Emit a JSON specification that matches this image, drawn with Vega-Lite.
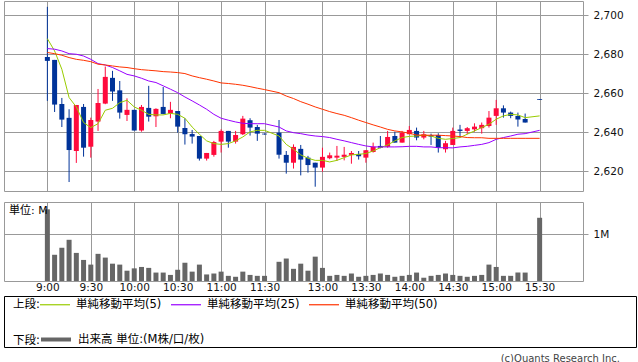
{
  "$schema": "https://vega.github.io/schema/vega-lite/v6.json",
  "background": "white",
  "padding": {"left": 3, "top": 0, "right": 2, "bottom": 0},
  "config": {
    "view": {"stroke": "#999999", "strokeWidth": 1},
    "axis": {"gridColor": "#999999", "gridWidth": 1, "gridOpacity": 1, "labelFont": "DejaVu Sans", "labelFontSize": 10.5, "labelColor": "#111111", "tickColor": "#999999", "domain": false, "title": null},
    "legend": {"labelFont": "DejaVu Sans, Noto Sans CJK JP", "titleFont": "DejaVu Sans, Noto Sans CJK JP"}
  },
  "datasets": {
    "d": [
      {"i":0,"o":2678.6,"h":2704.3,"l":2656.1,"c":2676.6,"m5":2688.0,"m25":2682.9,"m50":2680.9,"v":1.53},
      {"i":1,"o":2677.1,"h":2677.1,"l":2650.4,"c":2654.2,"m5":2681.7,"m25":2682.6,"m50":2680.3,"v":0.56},
      {"i":2,"o":2654.5,"h":2657.6,"l":2642.7,"c":2646.5,"m5":2672.3,"m25":2681.7,"m50":2679.5,"v":0.71},
      {"i":3,"o":2647.4,"h":2651.8,"l":2614.5,"c":2630.9,"m5":2657.8,"m25":2680.3,"m50":2678.3,"v":0.88},
      {"i":4,"o":2630.4,"h":2654.0,"l":2624.3,"c":2654.0,"m5":2653.0,"m25":2680.0,"m50":2677.4,"v":0.60},
      {"i":5,"o":2653.0,"h":2654.5,"l":2627.5,"c":2632.1,"m5":2645.0,"m25":2679.1,"m50":2676.9,"v":0.45},
      {"i":6,"o":2632.6,"h":2647.5,"l":2627.0,"c":2646.3,"m5":2642.4,"m25":2677.4,"m50":2676.2,"v":0.35},
      {"i":7,"o":2645.5,"h":2662.2,"l":2640.7,"c":2655.0,"m5":2644.4,"m25":2675.2,"m50":2674.9,"v":0.58},
      {"i":8,"o":2654.7,"h":2673.7,"l":2654.4,"c":2668.4,"m5":2651.3,"m25":2674.5,"m50":2674.5,"v":0.50},
      {"i":9,"o":2667.9,"h":2671.5,"l":2656.1,"c":2660.9,"m5":2652.3,"m25":2673.2,"m50":2674.0,"v":0.37},
      {"i":10,"o":2661.5,"h":2666.3,"l":2647.0,"c":2650.1,"m5":2655.2,"m25":2671.5,"m50":2673.5,"v":0.35},
      {"i":11,"o":2648.9,"h":2657.4,"l":2645.8,"c":2651.5,"m5":2656.4,"m25":2669.7,"m50":2673.2,"v":0.22},
      {"i":12,"o":2651.5,"h":2651.5,"l":2640.9,"c":2640.9,"m5":2653.0,"m25":2668.9,"m50":2672.6,"v":0.27},
      {"i":13,"o":2640.9,"h":2654.0,"l":2640.3,"c":2653.0,"m5":2651.3,"m25":2667.7,"m50":2672.1,"v":0.30},
      {"i":14,"o":2652.5,"h":2663.8,"l":2645.5,"c":2648.0,"m5":2649.2,"m25":2666.3,"m50":2671.8,"v":0.28},
      {"i":15,"o":2648.2,"h":2652.3,"l":2642.7,"c":2652.0,"m5":2648.9,"m25":2665.5,"m50":2671.5,"v":0.18},
      {"i":16,"o":2653.0,"h":2663.2,"l":2649.2,"c":2649.4,"m5":2648.9,"m25":2663.8,"m50":2671.1,"v":0.18},
      {"i":17,"o":2649.6,"h":2655.6,"l":2647.2,"c":2651.5,"m5":2649.7,"m25":2662.1,"m50":2670.9,"v":0.13},
      {"i":18,"o":2650.9,"h":2650.9,"l":2639.8,"c":2642.9,"m5":2649.2,"m25":2660.3,"m50":2670.6,"v":0.24},
      {"i":19,"o":2642.2,"h":2647.2,"l":2633.7,"c":2639.0,"m5":2647.2,"m25":2658.1,"m50":2670.1,"v":0.39},
      {"i":20,"o":2639.1,"h":2641.2,"l":2634.2,"c":2637.8,"m5":2642.7,"m25":2656.1,"m50":2668.9,"v":0.20},
      {"i":21,"o":2638.1,"h":2638.1,"l":2625.5,"c":2626.5,"m5":2639.0,"m25":2654.0,"m50":2668.0,"v":0.35},
      {"i":22,"o":2626.5,"h":2629.4,"l":2625.5,"c":2629.4,"m5":2635.6,"m25":2651.8,"m50":2667.2,"v":0.14},
      {"i":23,"o":2628.4,"h":2635.6,"l":2627.5,"c":2635.0,"m5":2634.2,"m25":2649.2,"m50":2666.3,"v":0.16},
      {"i":24,"o":2635.2,"h":2641.5,"l":2629.6,"c":2640.7,"m5":2633.8,"m25":2647.2,"m50":2665.3,"v":0.20},
      {"i":25,"o":2640.7,"h":2640.7,"l":2632.1,"c":2635.2,"m5":2634.2,"m25":2646.2,"m50":2665.0,"v":0.11},
      {"i":26,"o":2635.2,"h":2640.7,"l":2634.2,"c":2638.6,"m5":2635.6,"m25":2645.3,"m50":2664.6,"v":0.09},
      {"i":27,"o":2639.0,"h":2648.4,"l":2638.6,"c":2647.0,"m5":2637.6,"m25":2644.6,"m50":2664.1,"v":0.20},
      {"i":28,"o":2646.2,"h":2647.2,"l":2638.3,"c":2642.4,"m5":2640.2,"m25":2644.4,"m50":2663.4,"v":0.13},
      {"i":29,"o":2642.7,"h":2643.8,"l":2635.6,"c":2639.3,"m5":2641.0,"m25":2644.4,"m50":2662.6,"v":0.11},
      {"i":30,"o":2639.3,"h":2639.4,"l":2638.8,"c":2638.9,"m5":2641.0,"m25":2644.4,"m50":2661.9,"v":0.11},
      {"i":32,"o":2639.8,"h":2646.3,"l":2626.5,"c":2628.5,"m5":2638.1,"m25":2642.7,"m50":2660.3,"v":0.41},
      {"i":33,"o":2628.4,"h":2630.4,"l":2618.8,"c":2624.4,"m5":2633.8,"m25":2640.7,"m50":2658.6,"v":0.48},
      {"i":34,"o":2624.4,"h":2633.8,"l":2621.4,"c":2632.5,"m5":2631.3,"m25":2639.8,"m50":2657.3,"v":0.26},
      {"i":35,"o":2631.5,"h":2633.5,"l":2617.9,"c":2626.0,"m5":2628.4,"m25":2639.3,"m50":2655.7,"v":0.37},
      {"i":36,"o":2627.0,"h":2627.9,"l":2619.3,"c":2623.2,"m5":2626.7,"m25":2638.6,"m50":2654.4,"v":0.22},
      {"i":37,"o":2624.4,"h":2624.4,"l":2612.1,"c":2621.9,"m5":2625.6,"m25":2638.1,"m50":2653.0,"v":0.52},
      {"i":38,"o":2621.9,"h":2632.1,"l":2619.8,"c":2627.4,"m5":2625.6,"m25":2637.8,"m50":2651.8,"v":0.28},
      {"i":39,"o":2626.7,"h":2629.6,"l":2626.2,"c":2628.2,"m5":2624.8,"m25":2637.3,"m50":2650.6,"v":0.11},
      {"i":40,"o":2627.0,"h":2633.0,"l":2625.3,"c":2628.0,"m5":2625.6,"m25":2636.4,"m50":2649.6,"v":0.13},
      {"i":41,"o":2627.4,"h":2632.5,"l":2625.6,"c":2628.5,"m5":2627.0,"m25":2635.6,"m50":2648.7,"v":0.11},
      {"i":42,"o":2628.4,"h":2630.4,"l":2623.9,"c":2629.4,"m5":2628.4,"m25":2634.7,"m50":2647.5,"v":0.16},
      {"i":43,"o":2628.9,"h":2630.4,"l":2626.0,"c":2627.7,"m5":2628.7,"m25":2633.8,"m50":2646.2,"v":0.09},
      {"i":44,"o":2627.0,"h":2630.9,"l":2624.4,"c":2630.8,"m5":2629.1,"m25":2633.0,"m50":2645.0,"v":0.11},
      {"i":45,"o":2629.9,"h":2634.7,"l":2629.6,"c":2632.6,"m5":2630.4,"m25":2632.5,"m50":2643.8,"v":0.13},
      {"i":46,"o":2633.0,"h":2638.1,"l":2631.8,"c":2632.1,"m5":2632.1,"m25":2632.5,"m50":2642.7,"v":0.16},
      {"i":47,"o":2632.6,"h":2640.7,"l":2632.1,"c":2637.6,"m5":2633.5,"m25":2632.5,"m50":2641.5,"v":0.13},
      {"i":48,"o":2638.1,"h":2640.3,"l":2634.7,"c":2634.7,"m5":2635.6,"m25":2632.5,"m50":2640.7,"v":0.09},
      {"i":49,"o":2634.7,"h":2640.7,"l":2634.7,"c":2639.8,"m5":2637.3,"m25":2632.6,"m50":2640.2,"v":0.11},
      {"i":50,"o":2639.0,"h":2643.2,"l":2639.0,"c":2641.2,"m5":2637.9,"m25":2632.8,"m50":2639.5,"v":0.13},
      {"i":51,"o":2640.7,"h":2642.4,"l":2635.9,"c":2637.3,"m5":2638.1,"m25":2632.8,"m50":2638.6,"v":0.18},
      {"i":52,"o":2637.3,"h":2640.7,"l":2636.4,"c":2639.0,"m5":2638.5,"m25":2632.5,"m50":2638.5,"v":0.07},
      {"i":53,"o":2638.5,"h":2639.3,"l":2633.5,"c":2637.8,"m5":2638.1,"m25":2632.5,"m50":2638.5,"v":0.11},
      {"i":54,"o":2638.6,"h":2639.5,"l":2629.6,"c":2632.1,"m5":2636.9,"m25":2632.1,"m50":2638.5,"v":0.13},
      {"i":55,"o":2631.3,"h":2635.6,"l":2629.6,"c":2634.4,"m5":2636.4,"m25":2632.1,"m50":2638.3,"v":0.16},
      {"i":56,"o":2633.5,"h":2642.4,"l":2633.5,"c":2640.7,"m5":2636.8,"m25":2632.0,"m50":2638.1,"v":0.13},
      {"i":57,"o":2641.4,"h":2643.8,"l":2637.3,"c":2640.7,"m5":2637.3,"m25":2632.5,"m50":2637.8,"v":0.11},
      {"i":58,"o":2640.7,"h":2642.7,"l":2639.0,"c":2642.1,"m5":2639.0,"m25":2632.8,"m50":2637.3,"v":0.09},
      {"i":59,"o":2641.5,"h":2644.6,"l":2640.3,"c":2642.9,"m5":2640.7,"m25":2633.3,"m50":2637.2,"v":0.11},
      {"i":60,"o":2642.1,"h":2645.0,"l":2639.3,"c":2643.8,"m5":2642.4,"m25":2633.8,"m50":2637.2,"v":0.13},
      {"i":61,"o":2643.2,"h":2650.9,"l":2642.4,"c":2647.5,"m5":2644.1,"m25":2634.7,"m50":2636.9,"v":0.35},
      {"i":62,"o":2648.4,"h":2656.6,"l":2643.8,"c":2652.3,"m5":2646.7,"m25":2636.4,"m50":2636.9,"v":0.30},
      {"i":63,"o":2652.3,"h":2653.8,"l":2647.5,"c":2650.1,"m5":2648.4,"m25":2637.3,"m50":2636.9,"v":0.11},
      {"i":64,"o":2650.1,"h":2650.6,"l":2647.2,"c":2648.4,"m5":2649.2,"m25":2638.1,"m50":2636.9,"v":0.11},
      {"i":65,"o":2648.4,"h":2650.1,"l":2642.9,"c":2646.5,"m5":2648.9,"m25":2639.0,"m50":2636.9,"v":0.18},
      {"i":66,"o":2646.8,"h":2649.6,"l":2645.0,"c":2645.0,"m5":2647.5,"m25":2639.3,"m50":2636.9,"v":0.18},
      {"i":68,"o":2657.0,"h":2657.0,"l":2656.6,"c":2656.6,"m5":2648.4,"m25":2641.0,"m50":2636.9,"v":1.35}
    ]
  },
  "vconcat": [
    {
      "bounds": "flush",
      "spacing": 11,
      "vconcat": [
        {
          "width": 579,
          "height": 190,
          "data": {"name": "d"},
          "encoding": {
            "x": {"field": "i", "type": "quantitative", "scale": {"domain": [-5.3, 73.3], "nice": false, "zero": false},
              "axis": {"values": [0, 6, 12, 18, 24, 30, 38, 44, 50, 56, 62, 68], "labels": false, "ticks": false, "grid": true}}
          },
          "layer": [
            {
              "mark": {"type": "rule", "strokeWidth": 1},
              "encoding": {
                "y": {"field": "l", "type": "quantitative", "scale": {"domain": [2609.9, 2707.3], "nice": false, "zero": false},
                  "axis": {"orient": "right", "values": [2620, 2640, 2660, 2680, 2700], "format": ",d", "tickSize": 5, "labelPadding": 5, "grid": true}},
                "y2": {"field": "h"},
                "color": {"condition": {"test": "datum.c >= datum.o", "value": "#ff0a3c"}, "value": "#003399"}
              }
            },
            {
              "mark": {"type": "bar", "size": 5},
              "encoding": {
                "y": {"field": "o", "type": "quantitative"},
                "y2": {"field": "c"},
                "color": {"condition": {"test": "datum.c >= datum.o", "value": "#ff0a3c"}, "value": "#003399"}
              }
            },
            {
              "transform": [{"fold": ["m5", "m25", "m50"], "as": ["s", "val"]}],
              "mark": {"type": "line", "strokeWidth": 1},
              "encoding": {
                "y": {"field": "val", "type": "quantitative"},
                "color": {"field": "s", "type": "nominal",
                  "scale": {"domain": ["m5", "m25", "m50"], "range": ["#99cc00", "#9900ff", "#ff3300"]},
                  "legend": null}
              }
            }
          ]
        },
        {
          "width": 579,
          "height": 79,
          "title": {"text": "単位: M", "anchor": "start", "orient": "top", "offset": -14, "dx": 5, "fontSize": 11, "fontWeight": "normal", "font": "DejaVu Sans, Noto Sans CJK JP", "color": "#000000"},
          "data": {"name": "d"},
          "mark": {"type": "bar", "size": 5, "color": "#666666"},
          "encoding": {
            "x": {"field": "i", "type": "quantitative", "scale": {"domain": [-5.3, 73.3], "nice": false, "zero": false},
              "axis": {"values": [0, 6, 12, 18, 24, 30, 38, 44, 50, 56, 62, 68], "ticks": false, "tickSize": 0, "labelPadding": 1, "grid": true,
                "labelExpr": "['9:00','9:30','10:00','10:30','11:00','11:30','13:00','13:30','14:00','14:30','15:00','15:30'][indexof([0,6,12,18,24,30,38,44,50,56,62,68], datum.value)]"}},
            "y": {"field": "v", "type": "quantitative", "scale": {"domain": [0, 1.687], "nice": false},
              "axis": {"orient": "right", "values": [1], "labelExpr": "'1M'", "tickSize": 5, "labelPadding": 5, "grid": true}}
          }
        }
      ]
    },
    {
      "width": 632,
      "height": 51,
      "view": {"stroke": "#000000", "strokeWidth": 1},
      "title": {"text": "(c)Quants Research Inc.", "orient": "bottom", "anchor": "end", "offset": 6, "dx": -16, "fontSize": 10, "fontWeight": "normal", "font": "DejaVu Sans", "color": "#444444"},
      "data": {"name": "d"},
      "resolve": {"scale": {"color": "independent", "y": "independent"}, "legend": {"color": "independent"}},
      "layer": [
        {
          "transform": [{"fold": ["m5", "m25", "m50"], "as": ["s", "val"]}],
          "mark": {"type": "line", "opacity": 0},
          "encoding": {
            "x": {"field": "i", "type": "quantitative", "axis": null},
            "y": {"field": "val", "type": "quantitative", "axis": null, "scale": {"zero": false}},
            "color": {"field": "s", "type": "nominal",
              "scale": {"domain": ["m5", "m25", "m50"], "range": ["#99cc00", "#9900ff", "#ff3300"]},
              "legend": {"orient": "none", "legendX": 9, "legendY": 2.5, "title": "上段:", "titleOrient": "left", "titleAnchor": "middle", "titleBaseline": "middle", "titleFontSize": 11.5, "titleFontWeight": "normal", "titleColor": "#000000", "titlePadding": 9,
                "direction": "horizontal", "columns": 3, "symbolType": "M-3,0L3,0", "symbolSize": 100, "symbolStrokeWidth": 1.2, "symbolOpacity": 1, "labelFontSize": 11.5, "labelColor": "#000000", "labelOffset": 15, "columnPadding": 6, "padding": 0,
                "labelExpr": "datum.label == 'm5' ? '単純移動平均(5)' : datum.label == 'm25' ? '単純移動平均(25)' : '単純移動平均(50)'"}
            }
          }
        },
        {
          "mark": {"type": "bar", "opacity": 0},
          "encoding": {
            "x": {"field": "i", "type": "quantitative", "axis": null},
            "y": {"field": "v", "type": "quantitative", "axis": null},
            "color": {"datum": "出来高 単位:(M株/口/枚)", "type": "nominal",
              "scale": {"range": ["#666666"]},
              "legend": {"orient": "none", "legendX": 9, "legendY": 36.5, "title": "下段:", "titleOrient": "left", "titleAnchor": "middle", "titleBaseline": "middle", "titleFontSize": 11.5, "titleFontWeight": "normal", "titleColor": "#000000", "titlePadding": 9,
                "symbolType": "M-3,0L3,0", "symbolSize": 100, "symbolStrokeWidth": 4, "symbolStrokeColor": "#666666", "symbolFillColor": "#666666", "symbolOpacity": 1, "labelFontSize": 11.5, "labelColor": "#000000", "labelOffset": 15, "padding": 0}
            }
          }
        }
      ]
    }
  ],
  "spacing": 2
}
